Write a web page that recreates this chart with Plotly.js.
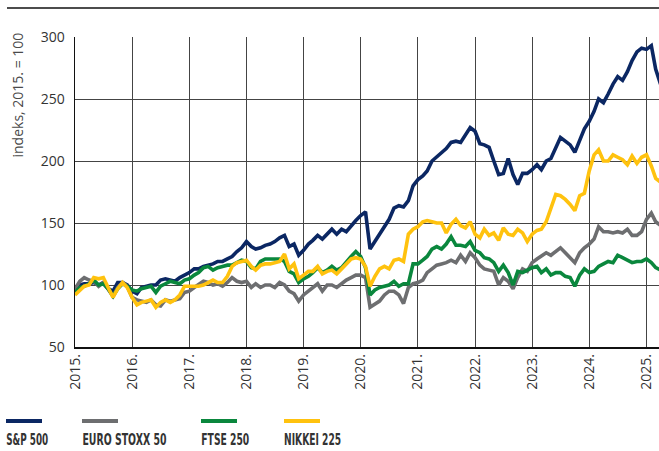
<!DOCTYPE html>
<html>
<head>
<meta charset="utf-8">
<script src="https://cdn.plot.ly/plotly-3.0.1.min.js"></script>
<style>
  html, body { margin: 0; padding: 0; background: #fff; }
  #plot { width: 659px; height: 451px; }
</style>
</head>
<body>
<div id="plot"></div>
<script>
// monthly index values, Jan 2015 .. Apr 2025 (2015 = 100)
var startYear = 2015;

var sp500 = [
  97, 100, 101, 101, 102, 100, 102, 97, 95, 102, 102, 100,
  95, 93, 98, 99, 100, 100, 104, 105, 104, 103, 106, 108,
  110, 113, 113, 115, 116, 117, 119, 119, 121, 123, 127, 130,
  135, 131, 129, 130, 132, 133, 135, 138, 140, 131, 133, 124,
  128, 133, 136, 140, 137, 141, 145, 141, 145, 143, 148, 152,
  156, 159, 129, 135, 140, 147, 153, 162, 164, 163, 168, 180,
  185, 188, 192, 200, 203, 207, 210, 215, 216, 215, 221, 227,
  224, 214, 213, 211, 200, 189, 190, 202, 189, 181, 190, 190,
  193, 197, 193, 200, 202, 210, 219, 216, 213, 207, 217, 226,
  232, 240, 250, 247, 254, 262, 268, 265, 272, 281, 288, 291,
  290, 293, 274, 262
];

var euroStoxx = [
  97, 103, 106, 104, 103, 99, 102, 96, 91, 98, 102, 99,
  90, 88, 87, 86, 88, 84, 83, 88, 87, 88, 89, 94,
  95, 98, 100, 103, 102, 100, 101, 99, 102, 106, 103, 102,
  103, 98, 101, 98, 100, 100, 98, 102, 100, 95, 93, 87,
  92, 95, 98, 101, 95, 100, 100, 98, 101, 104, 106, 108,
  108, 106, 82, 85, 87, 92, 95, 95, 92, 85, 98, 101,
  102, 104, 110, 113, 116, 117, 118, 120, 118, 124, 119, 126,
  122, 116, 113, 112, 111, 100, 106, 103, 97, 106, 113, 111,
  118, 121, 123, 126, 124, 127, 130, 126, 122, 118, 126, 130,
  133, 137, 147, 143, 143, 142, 143, 142, 145, 140, 140, 143,
  153, 158, 151, 148
];

var ftse250 = [
  94, 98, 99, 101, 104, 100, 101, 97, 91, 97, 101, 99,
  96, 95, 97, 98, 99, 94, 99, 101, 103, 102, 101, 104,
  105, 108, 110, 114, 115, 112, 114, 115, 116, 116, 118, 120,
  119, 114, 113, 119, 121, 121, 121, 121, 119, 111, 109, 102,
  105, 107, 110, 114, 110, 112, 115, 112, 114, 119, 123, 127,
  123, 114, 92, 96, 98, 99, 100, 103, 99, 101, 101, 117,
  117, 120, 123, 129, 131, 129, 133, 139, 132, 132, 131, 135,
  128, 126, 122, 121, 118, 111, 116, 110, 100, 111, 110, 112,
  114, 115, 110, 113, 108, 110, 110, 107, 106, 99, 108, 113,
  110, 111, 115, 117, 119, 118, 124, 122, 120, 118, 119, 119,
  121, 118, 114, 112
];

var nikkei225 = [
  92, 96, 99, 100, 106, 105, 106, 98, 90, 97, 102, 98,
  90, 84, 86, 87, 88, 82, 86, 88, 86, 88, 92, 99,
  99, 99, 99, 100, 102, 104, 102, 102, 107, 115, 118, 119,
  120, 115, 112, 116, 117, 117, 118, 119, 125, 113, 117, 105,
  108, 111, 111, 115, 109, 111, 112, 109, 113, 117, 121, 122,
  121, 115, 99, 107, 113, 115, 113, 120, 121, 119, 141, 145,
  147, 151, 152, 151, 150, 150, 142, 149, 153, 148, 146, 151,
  141, 138, 145, 140, 142, 136, 146, 141, 140, 145, 142, 135,
  141, 144, 145, 151, 163, 173, 172, 169, 165, 160, 172, 174,
  192, 205, 209, 200, 200, 205, 203, 201, 197, 204, 198, 203,
  205, 196, 186, 183
];

var seriesNames = ["S&P 500", "EURO STOXX 50", "FTSE 250", "NIKKEI 225"];
var seriesColors = ["#0b2763", "#6d6e70", "#0a873d", "#ffc20e"];
var seriesValues = [sp500, euroStoxx, ftse250, nikkei225];

// month dates for the x axis
var dates = [];
for (var i = 0; i < sp500.length; i++) {
  var y = startYear + Math.floor(i / 12);
  var m = (i % 12) + 1;
  dates.push(y + "-" + (m < 10 ? "0" + m : m) + "-01");
}

var data = seriesValues.map(function (vals, k) {
  return {
    x: dates,
    y: vals,
    type: "scatter",
    mode: "lines",
    name: seriesNames[k],
    line: { color: seriesColors[k], width: 3.6 },
    hoverinfo: "skip"
  };
});

// plot area in pixels, used to place the legend and the rule
var W = 659, H = 451;
var mar = { l: 75, r: 0, t: 37, b: 104 };
var pw = W - mar.l - mar.r, ph = H - mar.t - mar.b;
function px(x) { return (x - mar.l) / pw; }
function py(y) { return (H - mar.b - y) / ph; }

var shapes = [
  { type: "line", xref: "paper", yref: "paper", x0: px(7), x1: px(659), y0: py(8), y1: py(8),
    line: { color: "#111", width: 1.5 } }
];
var annotations = [
  { xref: "paper", yref: "paper", x: px(17), y: py(31), xanchor: "center", yanchor: "top",
    text: "indeks, 2015. = 100", textangle: -90, showarrow: false,
    font: { family: "Open Sans, sans-serif", size: 14, color: "#4a4a4a" } }
];

// legend: swatch above the label; label left edge and width from the reference
var legendX = [6, 82, 201, 284];
var legendW = [42, 84, 48, 57];
legendX.forEach(function (lx, k) {
  shapes.push({ type: "line", xref: "paper", yref: "paper",
    x0: px(lx), x1: px(lx + 36), y0: py(421), y1: py(421),
    line: { color: seriesColors[k], width: 4 } });
  annotations.push({ xref: "paper", yref: "paper", x: px(lx + legendW[k] / 2), y: py(440),
    xanchor: "center", yanchor: "middle", showarrow: false, text: seriesNames[k],
    font: { family: "DejaVu Sans Condensed, sans-serif", size: 15.5, weight: 700, color: "#333" } });
});

var layout = {
  width: W,
  height: H,
  margin: mar,
  showlegend: false,
  paper_bgcolor: "#fff",
  plot_bgcolor: "#fff",
  font: { family: "Open Sans, sans-serif", color: "#333" },
  xaxis: {
    type: "date",
    range: ["2015-01-01", "2025-03-22"],
    dtick: "M12",
    tick0: "2015-01-01",
    tickformat: "%Y.",
    tickangle: -90,
    tickfont: { size: 14, color: "#333" },
    showgrid: true,
    gridcolor: "#444",
    gridwidth: 1,
    showline: true,
    linecolor: "#111",
    linewidth: 1.5,
    ticks: "",
    zeroline: false,
    fixedrange: true
  },
  yaxis: {
    range: [50, 300],
    dtick: 50,
    tickfont: { size: 14, color: "#333" },
    showgrid: true,
    gridcolor: "#444",
    gridwidth: 1,
    showline: true,
    linecolor: "#111",
    linewidth: 1.5,
    ticks: "",
    ticklabelstandoff: 6,
    zeroline: false,
    fixedrange: true
  },
  shapes: shapes,
  annotations: annotations
};

Plotly.newPlot("plot", data, layout, { staticPlot: true }).then(function (gd) {
  // squeeze the legend labels to the narrow width of the original font
  var texts = gd.querySelectorAll(".annotation-text");
  for (var k = 1; k < texts.length; k++) {
    texts[k].setAttribute("textLength", legendW[k - 1]);
    texts[k].setAttribute("lengthAdjust", "spacingAndGlyphs");
  }
});
</script>
</body>
</html>
